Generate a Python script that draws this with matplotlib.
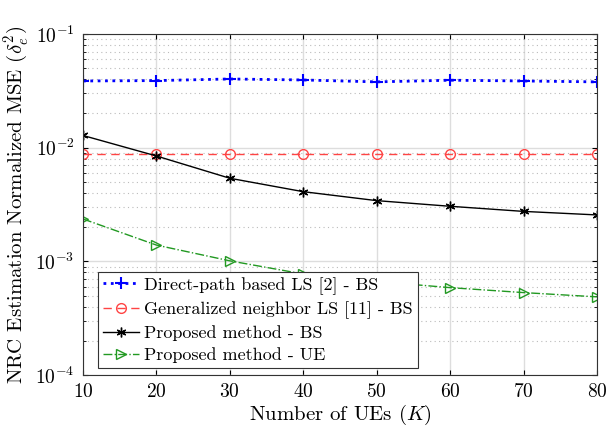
import numpy as np
import matplotlib
matplotlib.use("Agg")
import matplotlib.pyplot as plt

plt.rcParams['font.family'] = 'serif'
plt.rcParams['font.serif'] = ['cmr10']
plt.rcParams['mathtext.fontset'] = 'cm'
plt.rcParams['axes.formatter.use_mathtext'] = True

K = [10, 20, 30, 40, 50, 60, 70, 80]
direct_ls = [0.0386, 0.0389, 0.0402, 0.0394, 0.0379, 0.0392, 0.0386, 0.0379]
gen_neighbor_ls = [0.0088, 0.0088, 0.0088, 0.0088, 0.0088, 0.0088, 0.0088, 0.0088]
proposed_bs = [0.0128, 0.00845, 0.00538, 0.0041, 0.00342, 0.00305, 0.00275, 0.00256]
proposed_ue = [0.00236, 0.00139, 0.00101, 0.000774, 0.000665, 0.000587, 0.000531, 0.000487]

fig = plt.figure(figsize=(6.11, 4.28), dpi=100)
ax = fig.add_axes([0.1358, 0.1238, 0.8412, 0.7968])

ax.semilogy(K, direct_ls, color='blue', linestyle=':', linewidth=2, marker='+',
            markersize=8, markeredgewidth=1.5, label='Direct-path based LS [2] - BS')
ax.semilogy(K, gen_neighbor_ls, color='#ff4444', linestyle=(0, (6, 4)), linewidth=1,
            marker='o', markersize=7, markerfacecolor='none', label='Generalized neighbor LS [11] - BS')
ax.semilogy(K, proposed_bs, color='black', linestyle='-', linewidth=1, marker=(6, 2, 0),
            markersize=7, label='Proposed method - BS')
ax.semilogy(K, proposed_ue, color='#229922', linestyle='-.', linewidth=1, marker='>',
            markersize=7, markerfacecolor='none', label='Proposed method - UE')

ax.set_xlim(10, 80)
ax.set_ylim(1e-4, 1e-1)
ax.set_xticks(K)
ax.grid(True, which='major', color='#dddddd', linestyle='-', linewidth=1)
ax.grid(True, which='minor', axis='y', color='#bbbbbb', linestyle=(0, (1, 3)), linewidth=0.8)
ax.set_axisbelow(True)
ax.tick_params(which='both', direction='in', top=True, right=True, labelsize=14)
ax.tick_params(axis='both', which='major', pad=6)
ax.tick_params(axis='x', which='minor', bottom=False, top=False)
for s in ax.spines.values():
    s.set_color('#333333')

ax.set_xlabel('Number of UEs $(K)$', fontsize=15, labelpad=1)
ax.set_ylabel(r'NRC Estimation Normalized MSE $(\delta_e^2)$', fontsize=15, labelpad=3)

leg = ax.legend(loc='lower left', bbox_to_anchor=(0.03, 0.022), fontsize=13, fancybox=False,
                framealpha=1, edgecolor='#333333', handlelength=2.0, handletextpad=0.3,
                borderpad=0.25, labelspacing=0.35, borderaxespad=0)
leg.get_frame().set_linewidth(0.8)

fig.savefig('out.png', dpi=100)
